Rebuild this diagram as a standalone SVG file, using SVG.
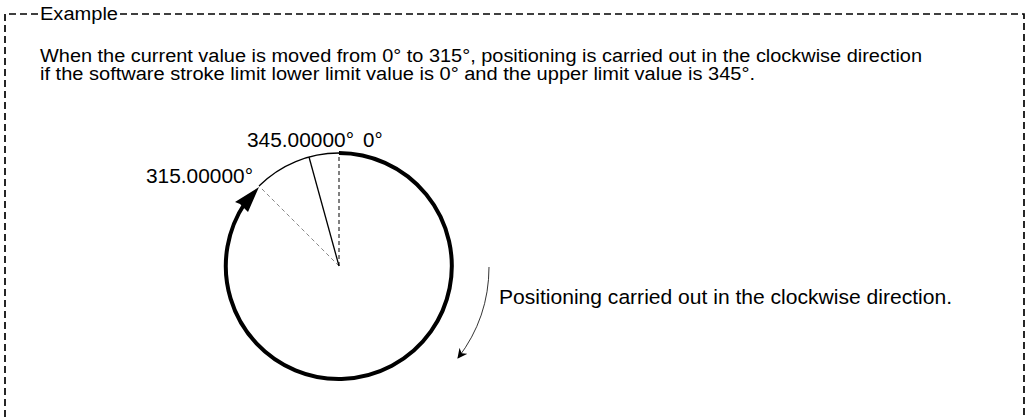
<svg xmlns="http://www.w3.org/2000/svg" width="1026" height="419" viewBox="0 0 1026 419">
<style>
text{font-family:"Liberation Sans",Arial,sans-serif;font-size:18px;fill:#000}
.frame{fill:none;stroke:#000;stroke-width:1.7;stroke-dasharray:7 4}
.lbl{font-size:20.5px}
</style>
<defs>
<marker id="thin" viewBox="0 0 10 10" refX="9" refY="5" markerWidth="10" markerHeight="10" markerUnits="userSpaceOnUse" orient="auto"><path d="M0,0 L10,5 L0,10 L3,5 Z" fill="#000"/></marker>
</defs>
<rect width="1026" height="419" fill="#fff"/>
<g id="frame">
<path class="frame" d="M38,14 H5 V419"/>
<path class="frame" d="M120,14 H1024 V419"/>
<text x="40" y="20" textLength="78" lengthAdjust="spacingAndGlyphs">Example</text>
</g>
<g id="description">
<text x="40" y="62" textLength="882" lengthAdjust="spacingAndGlyphs">When the current value is moved from 0° to 315°, positioning is carried out in the clockwise direction</text>
<text x="40" y="80" textLength="715" lengthAdjust="spacingAndGlyphs">if the software stroke limit lower limit value is 0° and the upper limit value is 345°.</text>
</g>
<g id="dial">
<path d="M259,186 A113,113 0 0 1 339,153" fill="none" stroke="#000" stroke-width="1.3"/>
<path d="M339,153 A113,113 0 1 1 245,203" fill="none" stroke="#000" stroke-width="4"/>
<polygon points="259,187 248,212 240,204 235,202" fill="#000"/>
<line x1="339" y1="266" x2="339" y2="153" stroke="#000" stroke-width="1" stroke-dasharray="4 3"/>
<line x1="339" y1="266" x2="259" y2="186" stroke="#888" stroke-width="1" stroke-dasharray="4 3"/>
<line x1="339" y1="266" x2="309" y2="157" stroke="#000" stroke-width="1.3"/>
</g>
<g id="labels">
<text class="lbl" x="146" y="183" textLength="107" lengthAdjust="spacingAndGlyphs">315.00000°</text>
<text class="lbl" x="247" y="147" textLength="107" lengthAdjust="spacingAndGlyphs">345.00000°</text>
<text class="lbl" x="363" y="147">0°</text>
</g>
<g id="connectors">
<path d="M489,267 A150,150 0 0 1 458,358" fill="none" stroke="#000" stroke-width="0.8" marker-end="url(#thin)"/>
</g>
<g id="note">
<text class="lbl" x="499" y="304" textLength="453" lengthAdjust="spacingAndGlyphs">Positioning carried out in the clockwise direction.</text>
</g>
</svg>
